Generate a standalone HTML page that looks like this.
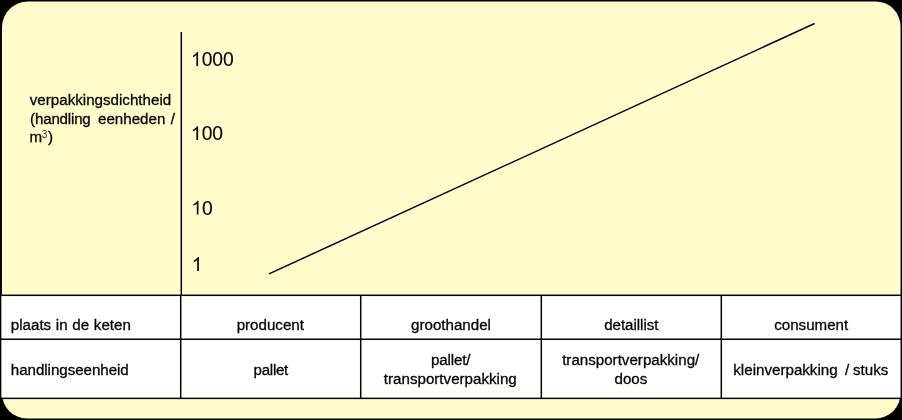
<!DOCTYPE html>
<html>
<head>
<meta charset="utf-8">
<title>verpakkingsdichtheid</title>
<style>
html,body{margin:0;padding:0;background:#000;}
body{width:902px;height:420px;overflow:hidden;position:relative;font-family:"Liberation Sans",sans-serif;}
svg{position:absolute;left:0;top:0;display:block;will-change:transform;}
text{font-family:"Liberation Sans",sans-serif;fill:#000;stroke:#000;stroke-width:0.3px;}
.t16{font-size:16px;}
.t19{font-size:19.3px;}
.t19 text{stroke-width:0.1px;}
</style>
</head>
<body>
<svg width="902" height="420" viewBox="0 0 902 420">
  <rect x="0" y="0" width="902" height="420" fill="#000"/>
  <!-- yellow rounded panel -->
  <path d="M27.95,1.45 H875.55 A25,25 0 0 1 900.55,26.45 V393.5 A25,25 0 0 1 875.55,418.5 H26.95 A25,25 0 0 1 1.95,393.5 V27.45 A26,26 0 0 1 27.95,1.45 Z" fill="#fffdcb"/>
  <!-- table background -->
  <rect x="0.6" y="295.3" width="900.7" height="103.07" fill="#fff" stroke="#000" stroke-width="1.5"/>
  <!-- table grid -->
  <g stroke="#000" stroke-width="1.5" fill="none">
    <line x1="0" y1="339.15" x2="902" y2="339.15" stroke-width="1.46"/>
    <line x1="180.7" y1="295.3" x2="180.7" y2="398.37"/>
    <line x1="360.7" y1="295.3" x2="360.7" y2="398.37"/>
    <line x1="541.3" y1="295.3" x2="541.3" y2="398.37"/>
    <line x1="721.3" y1="295.3" x2="721.3" y2="398.37"/>
    <!-- axis -->
    <line x1="181.3" y1="32" x2="181.3" y2="295.3"/>
    <!-- trend line -->
    <line x1="269" y1="273.85" x2="814.6" y2="23.55"/>
  </g>
  <!-- axis tick labels -->
  <g fill="#000">
    <path d="M763,0 L583,0 L583,1147 Q518,1085 412.5,1023 Q307,961 223,930 L223,1104 Q374,1175 487,1276 Q600,1377 647,1472 L763,1472 Z" transform="translate(190.9,65.9) scale(0.009424,-0.009424)"/>
    <path d="M763,0 L583,0 L583,1147 Q518,1085 412.5,1023 Q307,961 223,930 L223,1104 Q374,1175 487,1276 Q600,1377 647,1472 L763,1472 Z" transform="translate(190.9,140.1) scale(0.009424,-0.009424)"/>
    <path d="M763,0 L583,0 L583,1147 Q518,1085 412.5,1023 Q307,961 223,930 L223,1104 Q374,1175 487,1276 Q600,1377 647,1472 L763,1472 Z" transform="translate(191.3,214.5) scale(0.009424,-0.009424)"/>
    <path d="M763,0 L583,0 L583,1147 Q518,1085 412.5,1023 Q307,961 223,930 L223,1104 Q374,1175 487,1276 Q600,1377 647,1472 L763,1472 Z" transform="translate(191.7,270.9) scale(0.009424,-0.009424)"/>
  </g>
  <g class="t19">
    <text transform="translate(201.63,65.9) scale(1,1.028)">000</text>
    <text transform="translate(201.63,140.1) scale(1,1.028)">00</text>
    <text transform="translate(202.03,214.5) scale(1,1.028)">0</text>
  </g>
  <!-- text -->
  <g class="t16">
    <text transform="translate(29.8,105.3) scale(0.947,0.965)">verpakkingsdichtheid</text>
    <text transform="translate(30.1,123.6) scale(0.947,0.965)" letter-spacing="-0.21">(handling</text>
    <text transform="translate(98.0,123.6) scale(0.947,0.965)">eenheden</text>
    <text transform="translate(170.7,123.6) scale(0.947,0.965)">/</text>
    <text transform="translate(29.6,141.8) scale(0.947,0.965)">m<tspan font-size="10.6" dy="-4.2" dx="-0.4" stroke="none" fill="#2a2a2a">3</tspan><tspan dy="4.2" dx="0.5">)</tspan></text>
    <text transform="translate(10.8,330.3) scale(0.947,0.965)" word-spacing="0.5">plaats in de keten</text>
    <text transform="translate(10.8,374.9) scale(0.947,0.965)" letter-spacing="-0.05">handlingseenheid</text>
    <text transform="translate(270.3,330.3) scale(0.947,0.965)" text-anchor="middle">producent</text>
    <text transform="translate(451.0,330.3) scale(0.947,0.965)" text-anchor="middle">groothandel</text>
    <text transform="translate(631.3,330.3) scale(0.947,0.965)" text-anchor="middle" letter-spacing="-0.06">detaillist</text>
    <text transform="translate(811.2,330.3) scale(0.947,0.965)" text-anchor="middle">consument</text>
    <text transform="translate(270.8,374.9) scale(0.947,0.965)" text-anchor="middle" letter-spacing="-0.3">pallet</text>
    <text transform="translate(450.7,365.1) scale(0.947,0.965)" text-anchor="middle" letter-spacing="-0.17">pallet/</text>
    <text transform="translate(450.3,383.7) scale(0.947,0.965)" text-anchor="middle">transportverpakking</text>
    <text transform="translate(630.7,365.1) scale(0.947,0.965)" text-anchor="middle">transportverpakking/</text>
    <text transform="translate(630.9,383.7) scale(0.947,0.965)" text-anchor="middle">doos</text>
    <text transform="translate(810.8,374.9) scale(0.947,0.965)" text-anchor="middle" xml:space="preserve" word-spacing="-0.53">kleinverpakking  / stuks</text>
  </g>
</svg>
</body>
</html>
